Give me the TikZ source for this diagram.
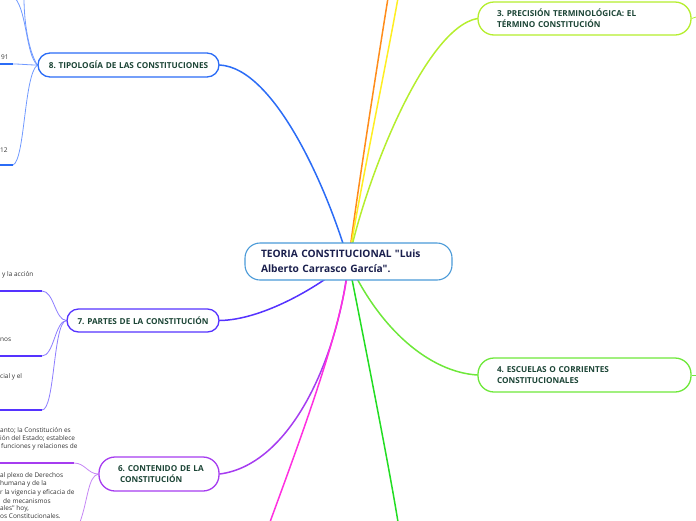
\documentclass[tikz,border=0pt]{standalone}
\usepackage{fontspec}
\setmainfont{Open Sans}[Ligatures=TeXOff]
\usetikzlibrary{calc}
\pgfdeclarelayer{bg}
\pgfsetlayers{bg,main}
\frenchspacing
\definecolor{cCenter}{HTML}{4A9AD8}
\definecolor{tCenter}{HTML}{1A1F4D}
\definecolor{tBranch}{HTML}{1C4536}
\definecolor{tSmall}{HTML}{333333}
\definecolor{cBlue}{HTML}{2B6CF6}
\definecolor{cBlueL}{HTML}{7099FF}
\definecolor{cOrange}{HTML}{FF8C1A}
\definecolor{cYellow}{HTML}{FFEE22}
\definecolor{cYG}{HTML}{B5EE2E}
\definecolor{cLG}{HTML}{6EE83A}
\definecolor{cGreen}{HTML}{22DD22}
\definecolor{cMag}{HTML}{FF30E0}
\definecolor{cViol}{HTML}{A63CF0}
\definecolor{cViolL}{HTML}{C585F5}
\definecolor{cPB}{HTML}{5533FF}
\definecolor{cPBL}{HTML}{8C7CFF}
\tikzset{
  conn/.style={line width=1.5pt, line cap=round},
  subthin/.style={line width=0.8pt},
  subthick/.style={line width=1.8pt},
  cbox/.style={draw=cCenter, line width=1.1pt, fill=white, rounded corners=15pt,
    font=\fontsize{10.2}{15}\selectfont\bfseries, text=tCenter, align=left,
    text width=175pt, inner xsep=16pt, inner ysep=0pt, minimum height=37pt},
  bbox/.style={line width=1.3pt, fill=white,
    font=\fontsize{8.2}{11}\selectfont\bfseries, text=tBranch, inner ysep=0pt},
  small/.style={font=\fontsize{6.5}{8.5}\selectfont, text=tSmall, anchor=west, inner sep=0pt}
}
\begin{document}
\begin{tikzpicture}[x=1pt,y=-1pt]
\useasboundingbox (0,0) rectangle (696,520);
% nodes
\node[cbox] (c) at (348.5,261.5) {TEORIA CONSTITUCIONAL "Luis\\Alberto Carrasco García".};
\node[bbox, draw=cBlue, rounded corners=12pt, align=center, text width=171pt, inner xsep=5pt, minimum height=24pt] (n8) at (128.5,65) {8. TIPOLOGÍA DE LAS CONSTITUCIONES};
\node[bbox, draw=cPB, rounded corners=11.5pt, align=center, text width=142pt, inner xsep=5pt, minimum height=23pt] (n7) at (143,320.5) {7. PARTES DE LA CONSTITUCIÓN};
\node[bbox, draw=cViol, rounded corners=16pt, align=left, text width=92pt, inner xsep=14pt, minimum height=34pt] (n6) at (159,474) {\hspace*{5pt}6. CONTENIDO DE LA\\\hspace*{7pt}CONSTITUCIÓN};
\node[bbox, draw=cYG, rounded corners=16pt, align=left, text width=175pt, inner xsep=19pt, minimum height=33pt] (n3) at (584.5,18.5) {3. PRECISIÓN TERMINOLÓGICA: EL\\TÉRMINO CONSTITUCIÓN};
\node[bbox, draw=cLG, rounded corners=16pt, align=left, text width=175pt, inner xsep=19pt, minimum height=34pt] (n4) at (584.5,375) {4. ESCUELAS O CORRIENTES\\CONSTITUCIONALES};
% free ends
\coordinate (oTop) at (388,-2);
\coordinate (yTop) at (398,-2);
\coordinate (mBot) at (270,522);
\coordinate (gBot) at (398,522);
\coordinate (s3) at (696,17);
\coordinate (s4) at (696,375);
\coordinate (k8t1) at (15,-2);
\coordinate (k8t2) at (24,-2);
\coordinate (k8a) at (13,64);
\coordinate (k8a0) at (0,64);
\coordinate (k8b) at (13,165);
\coordinate (k8b0) at (0,165);
\coordinate (k7a) at (42,291);
\coordinate (k7a0) at (0,291);
\coordinate (k7b) at (42,356);
\coordinate (k7b0) at (0,356);
\coordinate (k7c) at (42,410);
\coordinate (k7c0) at (0,410);
\coordinate (k6a) at (74,463);
\coordinate (k6a0) at (0,463);
\coordinate (k6b) at (80,522);
% connectors
\begin{pgfonlayer}{bg}
\draw[conn, cBlue] (c.center) .. controls (328,190) and (275,68) .. (n8.east);
\draw[conn, cOrange] (c.center) .. controls (356,200) and (378,60) .. (oTop);
\draw[conn, cYellow] (c.center) .. controls (358,200) and (387,60) .. (yTop);
\draw[conn, cYG] (c.center) .. controls (365,180) and (425,28) .. (n3.west);
\draw[conn, cPB] (c.center) .. controls (315,290) and (260,320) .. (n7.east);
\draw[conn, cViol] (c.center) .. controls (338,360) and (290,465) .. (n6.east);
\draw[conn, cMag] (c.center) .. controls (345,320) and (300,440) .. (mBot);
\draw[conn, cGreen] (c.center) .. controls (360,320) and (388,460) .. (gBot);
\draw[conn, cLG] (c.center) .. controls (380,330) and (430,372) .. (n4.west);
\draw[subthin, cYG] (n3.east) -- (s3);
\draw[subthin, cLG] (n4.east) -- (s4);
% children of 8
\draw[subthin, cBlueL] (n8.west) .. controls (26,55) and (27,12) .. (k8t1);
\draw[subthin, cBlueL] (n8.west) .. controls (28,50) and (24,20) .. (k8t2);
\draw[subthin, cBlueL] (n8.west) .. controls (28,65) and (22,64) .. (k8a);
\draw[subthick, cBlue] (k8a0) -- (k8a);
\draw[subthin, cBlueL] (n8.west) .. controls (24,75) and (25,160) .. (k8b);
\draw[subthick, cBlue] (k8b0) -- (k8b);
% children of 7
\draw[subthin, cPBL] (n7.west) .. controls (55,320) and (54,291) .. (k7a);
\draw[subthick, cPB] (k7a0) -- (k7a);
\draw[subthin, cPBL] (n7.west) .. controls (55,321) and (54,356) .. (k7b);
\draw[subthick, cPB] (k7b0) -- (k7b);
\draw[subthin, cPBL] (n7.west) .. controls (53,322) and (55,410) .. (k7c);
\draw[subthick, cPB] (k7c0) -- (k7c);
% children of 6
\draw[subthin, cViolL] (n6.west) .. controls (88,474) and (85,463) .. (k6a);
\draw[subthick, cViol] (k6a0) -- (k6a);
\draw[subthin, cViolL] (n6.west) .. controls (88,476) and (88,500) .. (k6b);
\end{pgfonlayer}
% partial child texts
\node[small] (t1) at (1,57) {91};
\node[small] (t2) at (0,150) {12};
\node[small] (t3) at (2,275) {y la acción};
\node[small] (t4) at (0,340) {nos};
\node[small] (t5) at (0,377) {cial y el};
\node[small] (t6) at (0,430) {anto; la Constitución es};
\node[small] (t7) at (0,438.5) {ión del Estado; establece};
\node[small] (t8) at (1,447) {funciones y relaciones de};
\node[small] (t9) at (0,475.5) {al plexo de Derechos};
\node[small] (t10) at (0,484) {humana y de la};
\node[small] (t11) at (0,492.5) {r la vigencia y eficacia de};
\node[small] (t12) at (3,501) {de mecanismos};
\node[small] (t13) at (0,509) {ales" hoy,};
\node[small] (t14) at (0,516.5) {os Constitucionales.};
\end{tikzpicture}
\end{document}
